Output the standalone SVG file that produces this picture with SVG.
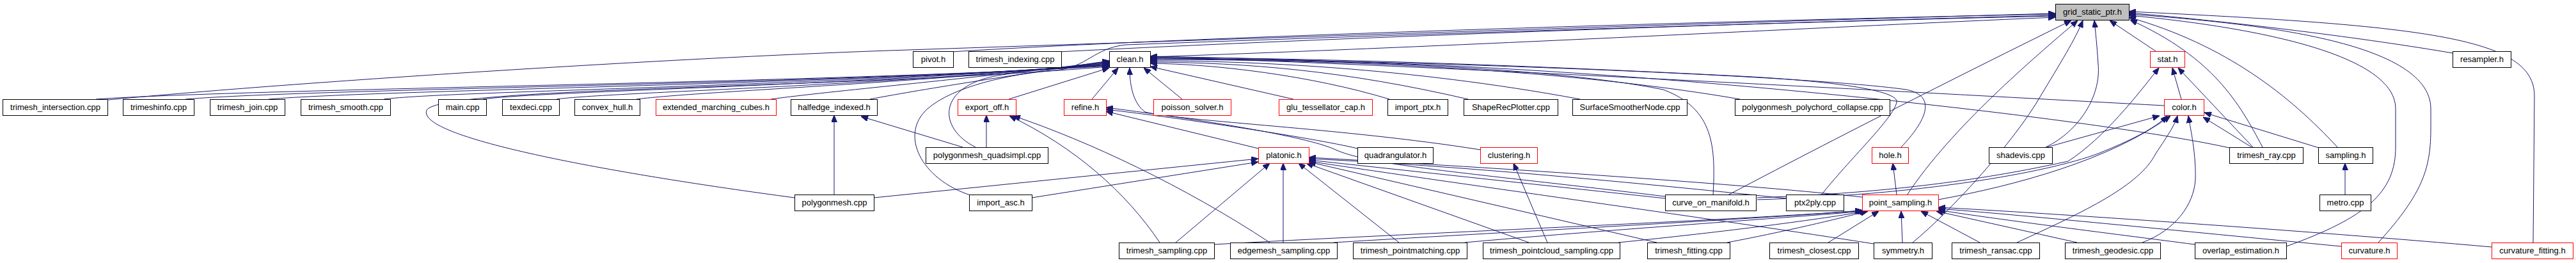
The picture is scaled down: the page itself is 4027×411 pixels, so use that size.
<svg xmlns="http://www.w3.org/2000/svg" width="4027" height="411" viewBox="0 0 4027 411">
<style>
.n rect{fill:#ffffff;stroke:#000000;stroke-width:1}
.r rect{stroke:#ff0000}
.g rect{fill:#bfbfbf}
.n text{font-family:"Liberation Sans",Arial,sans-serif;font-size:13px;fill:#000;text-anchor:middle}
#edges path{fill:none;stroke:#191970;stroke-width:1;marker-end:url(#a)}
</style>
<defs>
<marker id="a" markerWidth="11" markerHeight="9" refX="11" refY="4.5" orient="auto" markerUnits="userSpaceOnUse"><path d="M0,0 L11,4.5 L0,9 z" fill="#191970" stroke="#191970" stroke-width="1"/></marker>
</defs>
<rect width="4027" height="411" fill="#ffffff"/>
<g id="edges">
<path d="M169,156 C500,125 1100,88 1420,78 C1900,62 2700,35 3213,21"/>
<path d="M1487,81 C1900,55 2800,30 3213,22"/>
<path d="M1655,81 C2100,58 2800,34 3213,24"/>
<path d="M1517,305 C1440,280 1405,210 1450,170 C1490,135 1580,115 1650,110 C1700,105 1710,75 1760,70 C2300,50 2900,32 3213,25"/>
<path d="M1798,89 C2300,72 2900,40 3213,27"/>
<path d="M2701,305 C2900,200 3100,100 3238,32"/>
<path d="M2981,305 C3050,200 3180,90 3248,32"/>
<path d="M2990,379 C3050,330 3150,220 3190,150 C3220,100 3245,60 3256,32"/>
<path d="M3198,230 C3250,205 3285,150 3280,100 C3278,70 3276,50 3274,32"/>
<path d="M3370,80 L3298,32"/>
<path d="M3537,230 C3500,160 3460,90 3330,31"/>
<path d="M3654,230 C3580,150 3480,70 3328,27"/>
<path d="M3574,385 C3700,340 3745,300 3745,230 L3745,170 C3745,80 3500,40 3328,24"/>
<path d="M3718,379 C3790,300 3800,260 3800,200 L3800,170 C3800,60 3500,35 3328,22"/>
<path d="M3834,83 C3700,60 3500,35 3328,20"/>
<path d="M3960,379 L3962,150 C3962,60 3800,40 3328,18"/>
<path d="M150,155 C400,138 1300,130 1734,103"/>
<path d="M290,155 C500,138 1300,132 1734,102"/>
<path d="M420,155 C600,140 1300,133 1734,101"/>
<path d="M600,155 C700,142 1300,135 1734,100"/>
<path d="M755,155 C850,142 1350,134 1734,99"/>
<path d="M870,155 C950,144 1400,134 1734,98"/>
<path d="M995,155 C1100,142 1450,130 1734,97"/>
<path d="M1205,155 C1300,142 1500,125 1734,96"/>
<path d="M1360,155 C1450,138 1600,115 1734,95"/>
<path d="M1242,309 C950,270 650,215 667,172 C690,135 1300,140 1734,104"/>
<path d="M1525,230 C1465,200 1465,135 1560,118 C1620,108 1680,104 1734,102"/>
<path d="M1577,155 L1734,106"/>
<path d="M1707,155 L1748,106"/>
<path d="M2314,234 C2100,200 1850,190 1790,175 C1770,160 1766,130 1766,106"/>
<path d="M1848,155 L1788,106"/>
<path d="M2022,155 L1798,104"/>
<path d="M2172,155 C2050,118 1900,100 1798,99"/>
<path d="M2295,155 C2100,110 1950,98 1798,97"/>
<path d="M2470,155 C2200,105 1950,95 1798,95"/>
<path d="M2720,155 C2400,100 2000,93 1798,93"/>
<path d="M2678,305 C2682,230 2680,170 2600,140 C2400,100 2000,92 1798,92"/>
<path d="M2972,230 C3010,190 3030,150 2980,140 C2800,115 2100,92 1798,91"/>
<path d="M2847,305 C2890,250 2960,185 2965,160 C2970,140 2850,125 2700,118 C2300,98 2000,90 1798,90"/>
<path d="M3383,165 C3100,150 2200,100 1798,89"/>
<path d="M3485,231 C3300,190 2700,120 2200,100 C2000,92 1900,90 1798,88"/>
<path d="M1304,304 L1304,180"/>
<path d="M1505,230 L1346,182"/>
<path d="M1542,230 L1542,180"/>
<path d="M1813,379 C1760,300 1680,230 1578,181"/>
<path d="M1985,379 C1850,290 1700,220 1584,181"/>
<path d="M1967,232 L1729,174"/>
<path d="M2122,232 C2050,215 1850,185 1729,171"/>
<path d="M2603,307 C2300,270 2150,260 2090,235 C2050,215 1900,190 1729,168"/>
<path d="M1366,309 L1967,248"/>
<path d="M1613,309 L1967,253"/>
<path d="M1838,379 L1985,255"/>
<path d="M2006,379 L2006,255"/>
<path d="M2187,379 L2030,255"/>
<path d="M2390,379 L2042,255"/>
<path d="M2590,379 L2046,253"/>
<path d="M2603,310 L2046,250"/>
<path d="M2792,310 C2600,290 2300,260 2046,248"/>
<path d="M2911,308 C2700,285 2300,260 2046,246"/>
<path d="M2929,381 C2700,345 2300,290 2046,252"/>
<path d="M2419,379 L2366,255"/>
<path d="M2965,304 L2959,255"/>
<path d="M1898,382 C2200,365 2700,345 2911,329"/>
<path d="M2085,379 C2400,360 2750,342 2912,329"/>
<path d="M2290,379 C2500,360 2800,340 2915,330"/>
<path d="M2530,379 C2700,362 2850,342 2918,330"/>
<path d="M2700,379 C2800,360 2880,340 2920,330"/>
<path d="M2858,379 L2937,330"/>
<path d="M2974,379 L2972,330"/>
<path d="M3095,379 L3003,330"/>
<path d="M3247,379 L3027,330"/>
<path d="M3431,382 C3300,365 3100,340 3030,328"/>
<path d="M3660,385 C3400,360 3150,335 3030,326"/>
<path d="M3895,386 C3600,360 3200,333 3030,324"/>
<path d="M3410,155 L3396,106"/>
<path d="M3522,230 L3405,106"/>
<path d="M2747,309 C3000,300 3150,270 3233,252 C3290,215 3340,150 3375,106"/>
<path d="M3200,230 L3376,181"/>
<path d="M3030,312 C3150,290 3300,250 3393,181"/>
<path d="M2747,312 C3000,305 3200,270 3280,240 C3330,220 3370,200 3388,181"/>
<path d="M3153,379 C3260,330 3345,290 3370,240 C3390,210 3400,195 3404,181"/>
<path d="M3349,379 C3400,360 3430,320 3432,280 C3433,240 3425,205 3421,181"/>
<path d="M3520,230 L3444,183"/>
<path d="M3625,231 L3446,176"/>
<path d="M3666,304 L3666,255"/>
</g>
<g id="nodes">
<g id="n_G" class="n g"><rect x="3213.5" y="6.5" width="115" height="25"/><text x="3271" y="23">grid_static_ptr.h</text></g>
<g id="n_pivot" class="n"><rect x="1427.5" y="80.5" width="63" height="25"/><text x="1459" y="97">pivot.h</text></g>
<g id="n_tmi" class="n"><rect x="1514.5" y="80.5" width="145" height="25"/><text x="1587" y="97">trimesh_indexing.cpp</text></g>
<g id="n_clean" class="n"><rect x="1734.5" y="80.5" width="64" height="25"/><text x="1766.5" y="97">clean.h</text></g>
<g id="n_stat" class="n r"><rect x="3361.5" y="80.5" width="54" height="25"/><text x="3388.5" y="97">stat.h</text></g>
<g id="n_resampler" class="n"><rect x="3834.5" y="80.5" width="91" height="25"/><text x="3880" y="97">resampler.h</text></g>
<g id="n_tint" class="n"><rect x="4.5" y="155.5" width="164" height="25"/><text x="86.5" y="172">trimesh_intersection.cpp</text></g>
<g id="n_tinfo" class="n"><rect x="192.5" y="155.5" width="111" height="25"/><text x="248" y="172">trimeshinfo.cpp</text></g>
<g id="n_tjoin" class="n"><rect x="328.5" y="155.5" width="117" height="25"/><text x="387" y="172">trimesh_join.cpp</text></g>
<g id="n_tsmooth" class="n"><rect x="470.5" y="155.5" width="140" height="25"/><text x="540.5" y="172">trimesh_smooth.cpp</text></g>
<g id="n_main" class="n"><rect x="685.5" y="155.5" width="75" height="25"/><text x="723" y="172">main.cpp</text></g>
<g id="n_texdeci" class="n"><rect x="785.5" y="155.5" width="89" height="25"/><text x="830" y="172">texdeci.cpp</text></g>
<g id="n_convex" class="n"><rect x="898.5" y="155.5" width="102" height="25"/><text x="949.5" y="172">convex_hull.h</text></g>
<g id="n_emc" class="n r"><rect x="1025.5" y="155.5" width="188" height="25"/><text x="1119.5" y="172">extended_marching_cubes.h</text></g>
<g id="n_hi" class="n"><rect x="1236.5" y="155.5" width="135" height="25"/><text x="1304" y="172">halfedge_indexed.h</text></g>
<g id="n_eo" class="n r"><rect x="1497.5" y="155.5" width="91" height="25"/><text x="1543" y="172">export_off.h</text></g>
<g id="n_refine" class="n r"><rect x="1663.5" y="155.5" width="66" height="25"/><text x="1696.5" y="172">refine.h</text></g>
<g id="n_poisson" class="n r"><rect x="1803.5" y="155.5" width="121" height="25"/><text x="1864" y="172">poisson_solver.h</text></g>
<g id="n_glu" class="n r"><rect x="1999.5" y="155.5" width="146" height="25"/><text x="2072.5" y="172">glu_tessellator_cap.h</text></g>
<g id="n_iptx" class="n"><rect x="2169.5" y="155.5" width="94" height="25"/><text x="2216.5" y="172">import_ptx.h</text></g>
<g id="n_shape" class="n"><rect x="2288.5" y="155.5" width="147" height="25"/><text x="2362" y="172">ShapeRecPlotter.cpp</text></g>
<g id="n_surf" class="n"><rect x="2458.5" y="155.5" width="179" height="25"/><text x="2548" y="172">SurfaceSmootherNode.cpp</text></g>
<g id="n_poly" class="n"><rect x="2712.5" y="155.5" width="242" height="25"/><text x="2833.5" y="172">polygonmesh_polychord_collapse.cpp</text></g>
<g id="n_color" class="n r"><rect x="3383.5" y="155.5" width="62" height="25"/><text x="3414.5" y="172">color.h</text></g>
<g id="n_qs" class="n"><rect x="1447.5" y="230.5" width="191" height="25"/><text x="1543" y="247">polygonmesh_quadsimpl.cpp</text></g>
<g id="n_plat" class="n r"><rect x="1967.5" y="230.5" width="79" height="25"/><text x="2007" y="247">platonic.h</text></g>
<g id="n_quadr" class="n"><rect x="2122.5" y="230.5" width="118" height="25"/><text x="2181.5" y="247">quadrangulator.h</text></g>
<g id="n_clus" class="n r"><rect x="2314.5" y="230.5" width="89" height="25"/><text x="2359" y="247">clustering.h</text></g>
<g id="n_hole" class="n r"><rect x="2926.5" y="230.5" width="57" height="25"/><text x="2955" y="247">hole.h</text></g>
<g id="n_shade" class="n"><rect x="3109.5" y="230.5" width="99" height="25"/><text x="3159" y="247">shadevis.cpp</text></g>
<g id="n_tray" class="n"><rect x="3485.5" y="230.5" width="115" height="25"/><text x="3543" y="247">trimesh_ray.cpp</text></g>
<g id="n_samp" class="n"><rect x="3624.5" y="230.5" width="85" height="25"/><text x="3667" y="247">sampling.h</text></g>
<g id="n_pmesh" class="n"><rect x="1242.5" y="304.5" width="124" height="25"/><text x="1304.5" y="321">polygonmesh.cpp</text></g>
<g id="n_iasc" class="n"><rect x="1515.5" y="304.5" width="98" height="25"/><text x="1564.5" y="321">import_asc.h</text></g>
<g id="n_com" class="n"><rect x="2603.5" y="304.5" width="142" height="25"/><text x="2674.5" y="321">curve_on_manifold.h</text></g>
<g id="n_ptx2ply" class="n"><rect x="2792.5" y="304.5" width="90" height="25"/><text x="2837.5" y="321">ptx2ply.cpp</text></g>
<g id="n_ps" class="n r"><rect x="2911.5" y="304.5" width="119" height="25"/><text x="2971" y="321">point_sampling.h</text></g>
<g id="n_metro" class="n"><rect x="3626.5" y="304.5" width="80" height="25"/><text x="3666.5" y="321">metro.cpp</text></g>
<g id="n_tsamp" class="n"><rect x="1749.5" y="379.5" width="149" height="25"/><text x="1824" y="396">trimesh_sampling.cpp</text></g>
<g id="n_edgs" class="n"><rect x="1923.5" y="379.5" width="167" height="25"/><text x="2007" y="396">edgemesh_sampling.cpp</text></g>
<g id="n_tpm" class="n"><rect x="2115.5" y="379.5" width="178" height="25"/><text x="2204.5" y="396">trimesh_pointmatching.cpp</text></g>
<g id="n_tpcs" class="n"><rect x="2318.5" y="379.5" width="214" height="25"/><text x="2425.5" y="396">trimesh_pointcloud_sampling.cpp</text></g>
<g id="n_tfit" class="n"><rect x="2575.5" y="379.5" width="129" height="25"/><text x="2640" y="396">trimesh_fitting.cpp</text></g>
<g id="n_tclo" class="n"><rect x="2766.5" y="379.5" width="139" height="25"/><text x="2836" y="396">trimesh_closest.cpp</text></g>
<g id="n_sym" class="n"><rect x="2929.5" y="379.5" width="91" height="25"/><text x="2975" y="396">symmetry.h</text></g>
<g id="n_ransac" class="n"><rect x="3051.5" y="379.5" width="137" height="25"/><text x="3120" y="396">trimesh_ransac.cpp</text></g>
<g id="n_geo" class="n"><rect x="3228.5" y="379.5" width="149" height="25"/><text x="3303" y="396">trimesh_geodesic.cpp</text></g>
<g id="n_ovl" class="n"><rect x="3431.5" y="379.5" width="143" height="25"/><text x="3503" y="396">overlap_estimation.h</text></g>
<g id="n_curv" class="n r"><rect x="3660.5" y="379.5" width="87" height="25"/><text x="3704" y="396">curvature.h</text></g>
<g id="n_curvf" class="n r"><rect x="3895.5" y="379.5" width="127" height="25"/><text x="3959" y="396">curvature_fitting.h</text></g>
</g>
</svg>
